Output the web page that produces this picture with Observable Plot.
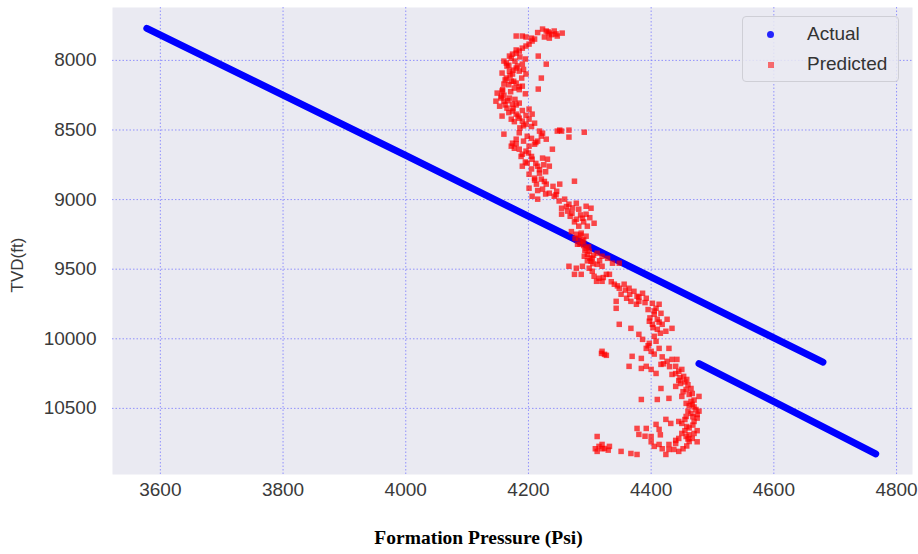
<!DOCTYPE html>
<html>
<head>
<meta charset="utf-8">
<script src="https://cdn.jsdelivr.net/npm/d3@7"></script>
<script src="https://cdn.jsdelivr.net/npm/@observablehq/plot@0.6"></script>
<style>
  html, body { margin: 0; padding: 0; background: #ffffff; }
  #wrap { position: relative; width: 918px; height: 554px; font-family: "Liberation Sans", Arial, sans-serif; }
  #legend {
    position: absolute; left: 742px; top: 16px; width: 157px; height: 66px;
    box-sizing: border-box; border: 1px solid #cfcfd6; border-radius: 4px;
    background: rgba(234,234,242,0.85);
  }
  .li { position: absolute; left: 0; height: 24px; width: 100%; }
  .li span.t { position: absolute; left: 64px; top: 0; font-size: 19px; color: #333; line-height: 24px; }
  .mk { position: absolute; }
  #ylab { position: absolute; left: 18px; top: 265px; font-size: 17px; color: #3a3a3a;
          transform: translate(-50%, -50%) rotate(-90deg); white-space: nowrap; }
</style>
</head>
<body>
<div id="wrap">
  <div id="chart"></div>
  <div id="ylab">TVD(ft)</div>
  <div id="legend">
    <div class="li" style="top:5px"><div class="mk" style="left:24px;top:9px;width:7px;height:7px;border-radius:50%;background:#0000ff;opacity:0.85"></div><span class="t">Actual</span></div>
    <div class="li" style="top:35px"><div class="mk" style="left:25px;top:10px;width:6px;height:6px;background:#ff0000;opacity:0.55"></div><span class="t">Predicted</span></div>
  </div>
</div>
<script>
// Tick values
const xTicks = [3600, 3800, 4000, 4200, 4400, 4600, 4800];
const yTicks = [8000, 8500, 9000, 9500, 10000, 10500];

// Actual formation pressure (two straight trends)
const actualSegment = ["a", "a", "a", "b", "b", "b"];
const actualPressure = [3578, 4000, 4680, 4478, 4600, 4766];
const actualDepth = [7770, 8683, 10168, 10178, 10452, 10827];

// Predicted formation pressure points
const predPressure = [
  4223,4229,4234,4242,4255,4234,4226,4247,4180,4190,4196,4210,
  4206,4201,4190,4185,4174,4180,4169,4160,4164,4196,4216,4229,4221,4216,
  4169,4174,4164,4180,4185,4190,4189,4172,4160,4180,4196,4177,4190,4165,4157,
  4149,4156,4147,4160,4169,4174,4185,4165,4157,4174,4180,4172,4185,4190,4196,4201,4206,4201,4210,4157,4153,
  4160,4251,4247,4254,4266,4266,4291,4229,4218,4223,4174,4180,4172,4185,4190,4177,4196,4201,4210,4215,4221,4239,
  4190,4198,4206,4215,4223,4231,4234,4218,4201,4210,4221,4229,4213,4201,4223,4234,4246,4251,4242,4206,4215,4275,
  4259,4266,4278,4254,4264,4271,4282,4278,4288,4294,4302,4282,4307,4296,4254,4294,
  4278,4282,4288,4280,4286,4294,4294,4299,4296,4304,4302,4312,4320,4329,4337,4348,4291,
  4266,4278,4288,4275,4286,4299,4304,4312,4320,4307,4315,4327,4311,4320,4332,
  4340,4348,4356,4364,4372,4351,4360,4343,4367,4377,4386,4392,4380,4376,4343,
  4402,4408,4413,4405,4416,4410,4402,4418,4410,4397,4426,4434,4424,4405,4380,4348,4367,
  4320,4324,4319,4327,4386,4397,4408,4392,4400,4413,4429,4369,4384,4364,4384,4392,4400,4408,4416,4426,
  4434,4442,4440,4445,4450,4434,4453,4448,4458,4440,4457,4465,4467,4478,4450,4416,4410,4384,4429,
  4457,4467,4473,4465,4475,4457,4470,4450,4458,4445,4432,4424,4408,4413,4457,4467,4462,4470,4445,4440,
  4429,4413,4405,4424,4400,4392,4377,4380,4312,4315,4324,4332,4312,4320,4351,4367,4377,4437,4429,4445,
  4465,4470,4460,4475,4468,4455,4462,4475,4458,
  4170,4185,4160,4178,4195,4290,4296,4305,
  4215,4238,4205,4245,4232,
  4180,4172,4186,4178,4195,4168,4182,4192,4175,
  4162,4176,4168,4185,4158,4171,4155,4166,4180,4162,4175,4190,4168,4183,4196,4177,4192,4205,4186,
  4185,4198,4192,4205,4180,4212,4200,4188,4205,
  4195,4212,4225,4205,4218,4228,4210,4226,4240,4215,4228,4245,
  4250,4262,4272,4268,4285,4275,4290,4300,
  4270,4285,4276,4290,4284,4298,4292,4306,4300,4316,
  4322,4335,4345,4358,4365,4380,4390,4395,4405,4398,4413,4403,4415,
  4395,4405,4418,4420,4430,4440,4447,4455,4445,4460,4452,4462,
  4470,4462,4478,4468,4455,4462,4475,4450,4460,4440,4452,4418,4400,4390,4415,4320,4330,4309
];
const predDepth = [
  7775,7789,7804,7789,7804,7840,7832,7825,7825,7825,7832,7847,
  7861,7883,7912,7933,7955,7948,7969,8005,8019,7897,7969,8027,8127,8206,
  8077,8098,8127,8055,8077,8027,8127,8149,8170,8163,8098,8199,8185,8041,8091,
  8235,8257,8293,8293,8271,8314,8307,8343,8400,8364,8386,8422,8415,8436,8458,8350,8386,8422,8451,8220,8329,
  8530,8501,8508,8508,8501,8551,8516,8566,8508,8523,8595,8566,8616,8638,8674,8631,8652,8616,8602,8580,8544,8638,
  8760,8738,8710,8760,8702,8710,8760,8810,8818,8846,8853,8889,8889,8918,8925,8954,8940,8889,8976,8976,8997,8868,
  8997,9033,9026,9062,9083,9098,9069,9141,9134,9048,9062,9191,9170,9191,9105,9105,
  9249,9278,9299,9321,9241,9263,9350,9371,9393,9422,9443,9385,9407,9422,9457,9457,9407,
  9479,9493,9479,9537,9537,9493,9515,9465,9479,9551,9565,9537,9587,9587,9537,
  9608,9637,9608,9637,9659,9680,9709,9731,9731,9695,9673,9709,9731,9752,9781,
  9745,9781,9752,9824,9817,9860,9896,9896,9932,9874,9860,9925,9946,9982,9968,9896,9925,
  10090,10112,10105,10119,10004,10033,10018,10069,10090,10069,10069,10126,10141,10198,10213,10198,10220,10249,10184,10162,
  10148,10148,10198,10234,10220,10256,10270,10321,10292,10342,10364,10357,10393,10414,10414,10357,10436,10436,10428,
  10464,10471,10508,10536,10544,10558,10594,10608,10630,10594,10608,10579,10615,10651,10702,10716,10738,10680,10716,10752,
  10759,10759,10773,10831,10702,10644,10644,10687,10702,10773,10788,10773,10809,10759,10809,10824,10831,10795,10795,10809,
  10450,10490,10520,10570,10620,10660,10690,10740,10770,
  8110,8190,8250,8280,8240,9330,9440,9460,
  7800,7815,7840,7810,7795,
  7925,7985,7975,8005,7990,8035,8040,8065,8070,
  8140,8150,8175,8210,8210,8225,8270,8290,8320,8320,8345,8360,8375,8400,8395,8440,8470,8475,8485,
  8520,8545,8580,8560,8600,8590,8665,8690,8690,
  8730,8740,8750,8780,8785,8800,8860,8870,8905,8935,8960,8965,
  9010,9050,9060,9120,9110,9160,9160,9130,
  9230,9255,9280,9290,9320,9340,9365,9400,9420,9440,
  9560,9590,9620,9650,9680,9700,9740,9790,9800,9850,9880,9920,9960,
  10050,10110,10130,10180,10200,10250,10280,10310,10300,10330,10380,10400,
  10440,10480,10520,10560,10580,10640,10660,10680,10720,10730,10790,10790,10740,10700,10690,10790,10800,10790
];

const actual = actualPressure.map((p, i) => ({p, d: actualDepth[i], s: actualSegment[i]}));
const predicted = predPressure.map((p, i) => ({p, d: predDepth[i]}));

const gridStyle = {stroke: "#7a7aff", strokeOpacity: 0.8, strokeWidth: 1, strokeDasharray: "1.5,2"};

const chart = Plot.plot({
  width: 918,
  height: 554,
  marginLeft: 112,
  marginRight: 6,
  marginTop: 7,
  marginBottom: 80,
  style: {fontFamily: "'Liberation Sans', Arial, sans-serif", background: "#ffffff", overflow: "visible"},
  x: {domain: [3522, 4826], axis: null},
  y: {domain: [7620, 10975], reverse: true, axis: null},
  marks: [
    Plot.frame({fill: "#eaeaf2", stroke: "none"}),
    Plot.ruleX(xTicks, {x: d => d, ...gridStyle}),
    Plot.ruleY(yTicks, {y: d => d, ...gridStyle}),
    Plot.line(actual, {x: "p", y: "d", z: "s", stroke: "#0000ff", strokeWidth: 7, strokeLinecap: "round"}),
    Plot.dot(predicted, {x: "p", y: "d", symbol: "square", r: 3.1, fill: "#ff0000", fillOpacity: 0.7, stroke: "none"}),
    Plot.text(xTicks, {x: d => d, text: d => String(d), frameAnchor: "bottom", dy: 21, fontSize: 19, fill: "#3a3a3a"}),
    Plot.text(yTicks, {y: d => d, text: d => String(d), frameAnchor: "left", textAnchor: "end", dx: -16, fontSize: 19, fill: "#3a3a3a"}),
    Plot.text(["Formation Pressure (Psi)"], {text: d => d, frameAnchor: "bottom", dx: -34, dy: 69, fontSize: 19.5, fontWeight: "bold", fontFamily: "'Liberation Serif', 'Times New Roman', serif", fill: "#000"})
  ]
});
document.getElementById("chart").appendChild(chart);
</script>
</body>
</html>
